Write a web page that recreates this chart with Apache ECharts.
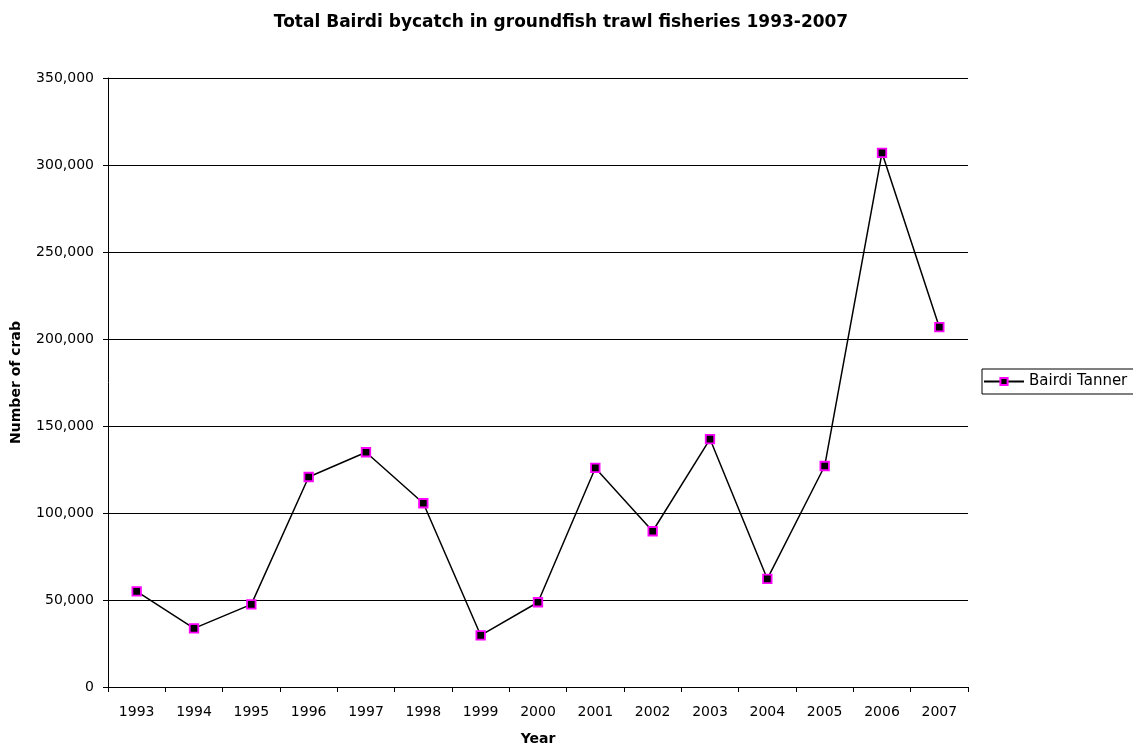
<!DOCTYPE html>
<html>
<head>
<meta charset="utf-8">
<script src="https://cdn.jsdelivr.net/npm/echarts@6/dist/echarts.min.js"></script>
<style>
  html, body { margin: 0; padding: 0; background: #fff; }
  #chart { width: 1133px; height: 752px; }
</style>
</head>
<body>
<div id="chart"></div>
<script>
// years on the x axis
const years = ['1993', '1994', '1995', '1996', '1997', '1998', '1999', '2000',
  '2001', '2002', '2003', '2004', '2005', '2006', '2007'];
// Bairdi Tanner bycatch, number of crab
const bairdiTanner = [55000, 33700, 47500, 120700, 134900, 105600, 29700, 48700,
  125900, 89500, 142500, 62100, 127000, 307000, 206800];
const yTicks = [0, 50000, 100000, 150000, 200000, 250000, 300000, 350000];

// the original text is a stretched Arial; DejaVu Sans is close in width
const font = 'DejaVu Sans, Liberation Sans, Arial, sans-serif';
const chart = echarts.init(document.getElementById('chart'));

chart.setOption({
  animation: false,
  backgroundColor: '#fff',
  title: {
    text: 'Total Bairdi bycatch in groundfish trawl fisheries 1993-2007',
    left: 556,
    textAlign: 'center',
    top: 9,
    textStyle: { fontFamily: font, fontSize: 17, fontWeight: 'bold', color: '#000' },
  },
  legend: {
    data: ['Bairdi Tanner'],
    left: 982,
    top: 369,
    orient: 'vertical',
    padding: [5, 12, 5, 1],
    borderColor: '#000',
    borderWidth: 1,
    itemWidth: 40,
    itemHeight: 9,
    itemGap: 0,
    textStyle: { fontFamily: font, fontSize: 15, color: '#000' },
  },
  grid: { left: 108, right: 165, top: 78, bottom: 65, containLabel: false },
  xAxis: {
    type: 'category',
    data: years,
    boundaryGap: true,
    name: 'Year',
    nameLocation: 'middle',
    nameGap: 45,
    nameTextStyle: { fontFamily: font, fontSize: 14, fontWeight: 'bold', color: '#000' },
    axisLine: { lineStyle: { color: '#000', width: 1 } },
    axisTick: { show: true, alignWithLabel: false, length: 5, lineStyle: { color: '#000' } },
    axisLabel: { fontFamily: font, fontSize: 14, color: '#000', margin: 18 },
    splitLine: { show: false },
  },
  yAxis: {
    type: 'value',
    min: yTicks[0],
    max: yTicks[yTicks.length - 1],
    interval: 50000,
    name: 'Number of crab',
    nameLocation: 'middle',
    nameGap: 85,
    nameRotate: 90,
    nameTextStyle: { fontFamily: font, fontSize: 14, fontWeight: 'bold', color: '#000' },
    axisLine: { show: true, lineStyle: { color: '#000', width: 1 } },
    axisTick: { show: true, length: 5, lineStyle: { color: '#000' } },
    axisLabel: {
      fontFamily: font, fontSize: 14, color: '#000', margin: 14,
      formatter: (v) => v.toLocaleString('en-US'),
    },
    splitLine: { show: true, lineStyle: { color: '#000', width: 1 } },
  },
  series: [
    {
      name: 'Bairdi Tanner',
      type: 'line',
      data: bairdiTanner,
      symbol: 'rect',
      symbolSize: 8.5,
      lineStyle: { color: '#000', width: 1.5 },
      itemStyle: { color: '#000', borderColor: '#ff00ff', borderWidth: 1.8 },
    },
  ],
});
</script>
</body>
</html>
